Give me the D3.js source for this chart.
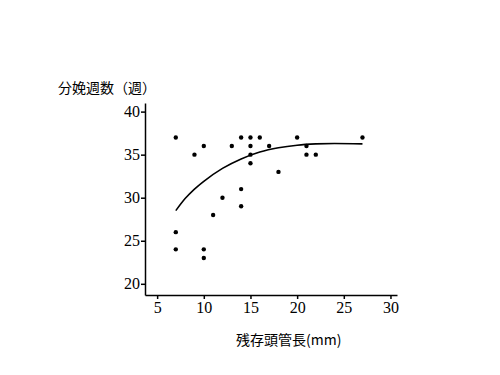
<!DOCTYPE html>
<html>
<head>
<meta charset="utf-8">
<script src="https://cdn.jsdelivr.net/npm/d3@7"></script>
<style>
  body { margin: 0; background: #fff; }
  .tick text { font-family: "Liberation Serif", "DejaVu Serif", serif; font-size: 16px; fill: #000; }
  .lab { font-family: "Noto Sans CJK JP", sans-serif; font-size: 14px; fill: #000; }
</style>
</head>
<body>
<div id="chart"></div>
<script>
// observed points: residual cervical length (mm) vs. gestational week at delivery
var cervixLen = [7, 9, 10, 13, 14, 15, 16, 17, 15, 15, 15, 20, 21, 21, 22, 27, 18, 14, 14, 12, 11, 7, 7, 10, 10];
var deliveryWeek = [37, 35, 36, 36, 37, 37, 37, 36, 36, 35, 34, 37, 36, 35, 35, 37, 33, 31, 29, 30, 28, 26, 24, 24, 23];

// fitted curve
var fitX = [7, 8, 9, 10, 12, 14, 16, 18, 20, 22, 24, 27];
var fitY = [28.5, 29.9, 31.0, 31.9, 33.4, 34.5, 35.3, 35.8, 36.1, 36.25, 36.3, 36.25];

var xTicks = [5, 10, 15, 20, 25, 30];
var yTicks = [20, 25, 30, 35, 40];

var width = 500, height = 375;

var svg = d3.select('#chart')
    .append('svg')
    .attr('width', width)
    .attr('height', height);

var x = d3.scaleLinear().domain([3.7, 30.7]).range([145, 397]);
var y = d3.scaleLinear().domain([18.7, 41]).range([295, 103]);

// axes
svg.append('g')
    .attr('transform', 'translate(0,295)')
    .call(d3.axisBottom(x).tickValues(xTicks).tickSize(4).tickPadding(3).tickSizeOuter(0))
    .call(function(g) { g.selectAll('path, line').attr('stroke', '#000').attr('stroke-width', 1.5); });

svg.append('g')
    .attr('transform', 'translate(145,0)')
    .call(d3.axisLeft(y).tickValues(yTicks).tickSize(4).tickPadding(1).tickSizeOuter(0))
    .call(function(g) { g.selectAll('path, line').attr('stroke', '#000').attr('stroke-width', 1.5); });

// fitted curve
var line = d3.line()
    .x(function(d, i) { return x(fitX[i]); })
    .y(function(d, i) { return y(fitY[i]); })
    .curve(d3.curveMonotoneX);

svg.append('path')
    .datum(fitX)
    .attr('d', line)
    .attr('fill', 'none')
    .attr('stroke', '#000')
    .attr('stroke-width', 1.6);

// points
svg.append('g')
    .selectAll('circle')
    .data(cervixLen)
    .enter()
    .append('circle')
        .attr('cx', function(d) { return x(d); })
        .attr('cy', function(d, i) { return y(deliveryWeek[i]); })
        .attr('r', 2.2)
        .attr('fill', '#000');

// axis titles
svg.append('text')
    .attr('class', 'lab')
    .attr('x', 58)
    .attr('y', 93)
    .text('分娩週数（週）');

svg.append('text')
    .attr('class', 'lab')
    .attr('x', 236)
    .attr('y', 345)
    .text('残存頭管長(mm)');
</script>
</body>
</html>
